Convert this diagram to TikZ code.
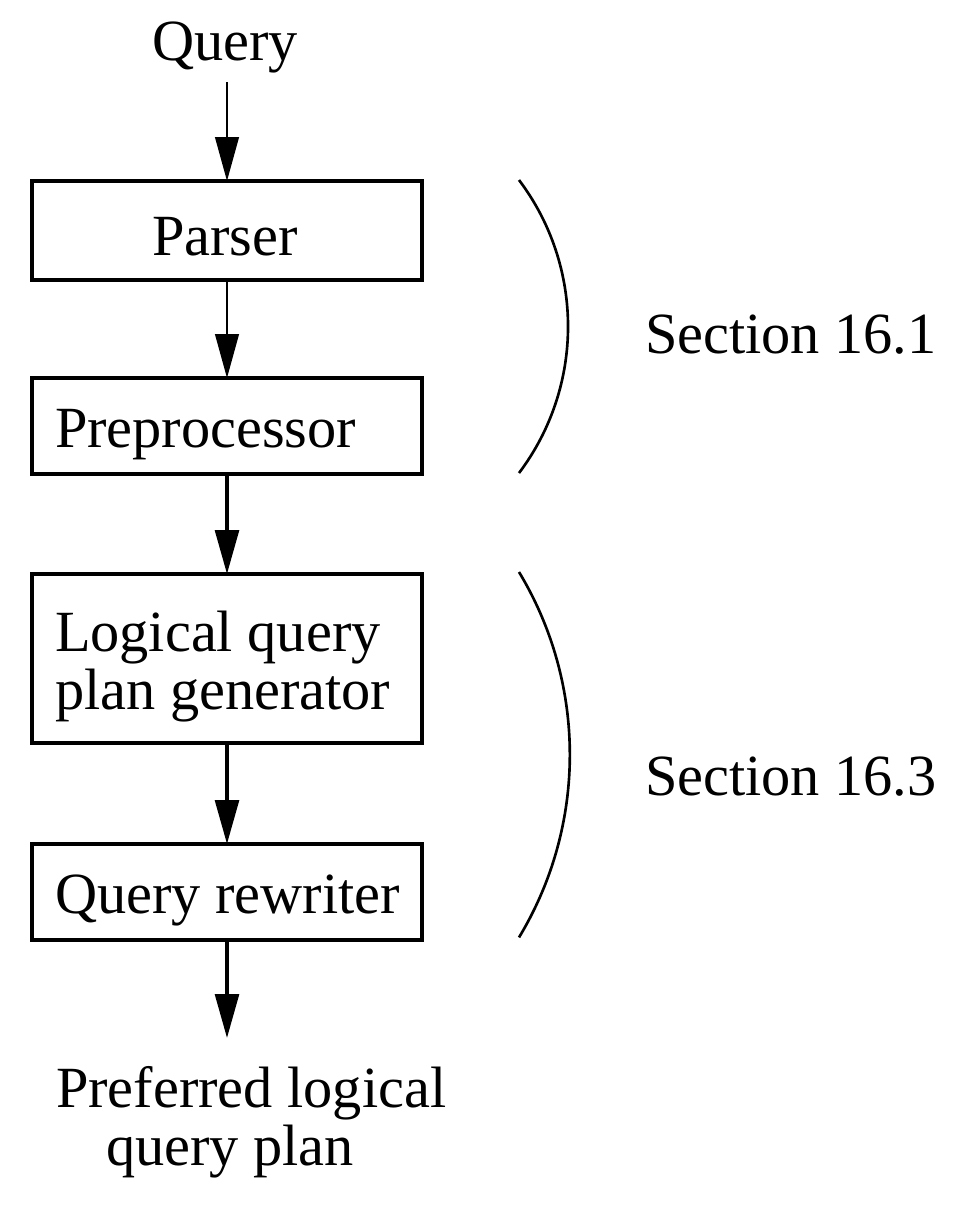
\documentclass[tikz,border=0pt]{standalone}
\usepackage{fontspec}
\setmainfont{Liberation Serif}
\usetikzlibrary{arrows.meta}
\begin{document}
\begin{tikzpicture}[x=0.02cm,y=-0.02cm,
  every node/.style={inner sep=0pt, outer sep=0pt, font=\fontsize{33.2}{32.6}\selectfont},
  box/.style={draw, line width=1.8pt, minimum width=7.8cm, rectangle},
  txt/.style={align=left},
  arrthin/.style={line width=1.1pt, -{Triangle[length=25pt,width=13.5pt]}},
  arrthick/.style={line width=2pt, -{Triangle[length=25pt,width=13.5pt]}},
  brk/.style={line width=1.5pt}]
\useasboundingbox (0,0) rectangle (964,1214);
% boxes
\node[box, minimum height=1.98cm] (parser) at (227,230.5) {};
\node[box, minimum height=1.92cm] (prep) at (227,426) {};
\node[box, minimum height=3.38cm] (lqpg) at (227,658.5) {};
\node[box, minimum height=1.92cm] (rewr) at (227,892) {};
% texts
\node[anchor=base] (query) at (225,60) {Query};
\node[anchor=base] (parsertxt) at (225,255) {Parser};
\node[anchor=base west] (preptxt) at (55,447) {Preprocessor};
\node[anchor=base west, txt] (lqpgtxt) at (55,709) {Logical query\\plan generator};
\node[anchor=base west] (rewrtxt) at (55,913) {Query rewriter};
\node[anchor=base west, txt] (pref) at (56,1165) {Preferred logical\\\hspace*{28.5pt}query plan};
\node[anchor=base west] (sec1) at (645,353) {Section 16.1};
\node[anchor=base west] (sec3) at (645,795) {Section 16.3};
\coordinate (outpt) at (227,1038);
% connectors
\draw[arrthin, shorten <=5.5pt] (query.south -| parser.north) -- (parser.north);
\draw[arrthin] (parser.south) -- (prep.north);
\draw[arrthick] (prep.south) -- (lqpg.north);
\draw[arrthick] (lqpg.south) -- (rewr.north);
\draw[arrthick] (rewr.south) -- (outpt);
% brackets
\draw[brk] (519,180) arc[start angle=37, end angle=-37, radius=4.87cm];
\draw[brk] (519,572) arc[start angle=31.1, end angle=-31.1, radius=7.076cm];
\end{tikzpicture}
\end{document}
